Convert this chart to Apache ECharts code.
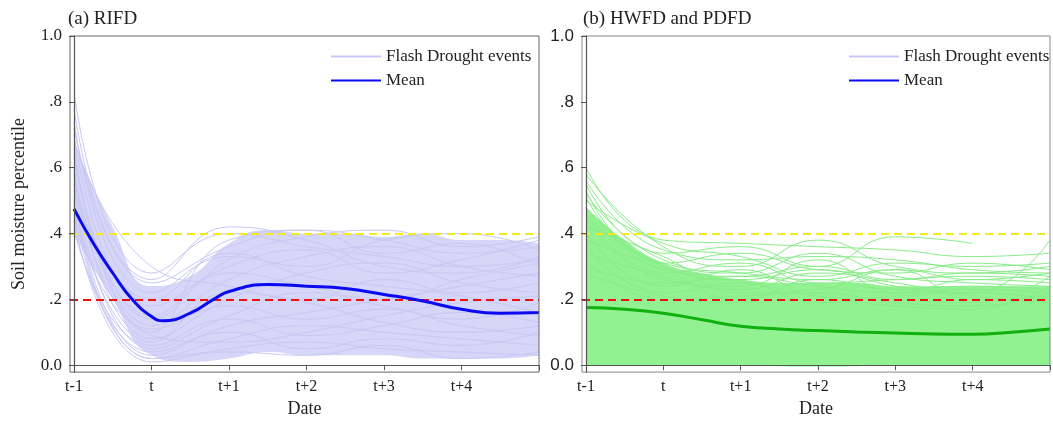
<!DOCTYPE html>
<html>
<head>
<meta charset="utf-8">
<script src="https://cdn.jsdelivr.net/npm/echarts@6/dist/echarts.min.js"></script>
<style>
html, body { margin: 0; padding: 0; background: #fff; }
#chart { width: 1053px; height: 423px; }
</style>
</head>
<body>
<div id="chart"></div>
<script>
// x positions: 0 = t-1, 1 = t, ... 6 = end of window
const xTicks = [0, 1, 2, 3, 4, 5, 6];
const xTickLabels = ['t-1', 't', 't+1', 't+2', 't+3', 't+4', ''];
const yTicks = [0, 0.2, 0.4, 0.6, 0.8, 1.0];
const yTickLabels = ['0.0', '.2', '.4', '.6', '.8', '1.0'];
const thresholds = [0.4, 0.2];

// (a) RIFD
const meanXA = [0, 0.25, 0.5, 0.75, 1, 1.15, 1.5, 1.8, 2, 2.5, 3, 3.5, 4, 4.5, 5, 5.5, 6];
const meanA = [0.475, 0.37, 0.28, 0.2, 0.148, 0.135, 0.158, 0.2, 0.224, 0.245, 0.24, 0.233, 0.215, 0.195, 0.17, 0.158, 0.16];
const bandXA = [0, 0.5, 1, 1.5, 2, 2.5, 3, 3.5, 4, 4.5, 5, 5.5, 6];
const bandLowA = [0.40, 0.20, 0.03, 0.01, 0.02, 0.04, 0.03, 0.03, 0.03, 0.02, 0.02, 0.02, 0.03];
const bandHighA = [0.68, 0.42, 0.24, 0.27, 0.37, 0.41, 0.40, 0.40, 0.39, 0.40, 0.38, 0.38, 0.37];
const eventsA = [
  [0.83, 0.28, 0.40, 0.36, 0.33, 0.30, 0.32],
  [0.78, 0.25, 0.36, 0.41, 0.38, 0.34, 0.36],
  [0.74, 0.22, 0.33, 0.30, 0.38, 0.40, 0.35],
  [0.70, 0.18, 0.30, 0.35, 0.28, 0.32, 0.38],
  [0.66, 0.12, 0.26, 0.33, 0.36, 0.30, 0.27],
  [0.63, 0.10, 0.38, 0.41, 0.34, 0.37, 0.30],
  [0.60, 0.08, 0.20, 0.28, 0.31, 0.25, 0.22],
  [0.58, 0.15, 0.28, 0.24, 0.20, 0.26, 0.31],
  [0.55, 0.05, 0.15, 0.22, 0.18, 0.14, 0.19],
  [0.53, 0.20, 0.34, 0.27, 0.24, 0.21, 0.16],
  [0.51, 0.03, 0.12, 0.16, 0.20, 0.24, 0.28],
  [0.49, 0.07, 0.22, 0.19, 0.13, 0.10, 0.12],
  [0.47, 0.02, 0.08, 0.12, 0.10, 0.08, 0.06],
  [0.45, 0.11, 0.18, 0.14, 0.17, 0.12, 0.09],
  [0.44, 0.01, 0.05, 0.07, 0.05, 0.04, 0.03],
  [0.42, 0.04, 0.10, 0.05, 0.08, 0.06, 0.10],
  [0.41, 0.06, 0.14, 0.09, 0.12, 0.16, 0.13],
  [0.68, 0.30, 0.24, 0.20, 0.26, 0.22, 0.25],
  [0.72, 0.26, 0.42, 0.38, 0.30, 0.28, 0.33],
  [0.64, 0.14, 0.32, 0.39, 0.41, 0.36, 0.39],
  [0.57, 0.09, 0.07, 0.10, 0.15, 0.19, 0.21],
  [0.50, 0.02, 0.04, 0.03, 0.06, 0.02, 0.04]
];

// (b) HWFD and PDFD
const meanXB = [0, 0.5, 1, 1.5, 2, 2.5, 3, 3.5, 4, 4.5, 5, 5.5, 6];
const meanB = [0.175, 0.170, 0.158, 0.138, 0.118, 0.110, 0.105, 0.101, 0.098, 0.095, 0.094, 0.100, 0.110];
const bandXB = [0, 0.5, 1, 1.5, 2, 2.5, 3, 3.5, 4, 4.5, 5, 5.5, 6];
const bandLowB = [0.0, 0.0, 0.0, 0.0, 0.0, -0.003, -0.004, -0.003, 0.0, 0.0, 0.0, 0.0, 0.0];
const bandHighB = [0.48, 0.38, 0.31, 0.28, 0.26, 0.25, 0.25, 0.25, 0.24, 0.24, 0.24, 0.24, 0.24];
const eventsB = [
  [0.60, 0.38, 0.37, 0.36, 0.35, 0.33, 0.34],
  [0.58, 0.36, 0.30, 0.38, 0.30, 0.28, 0.30],
  [0.55, 0.34, 0.36, 0.30, 0.39, 0.37, null],
  [0.52, 0.32, 0.28, 0.34, 0.27, 0.25, 0.24],
  [0.50, 0.37, 0.33, 0.27, 0.31, 0.30, 0.31],
  [0.48, 0.30, 0.26, 0.29, 0.24, 0.22, 0.38],
  [0.46, 0.28, 0.31, 0.25, 0.26, 0.27, 0.26],
  [0.44, 0.26, 0.24, 0.32, 0.22, 0.23, 0.22],
  [0.42, 0.33, 0.22, 0.23, 0.29, 0.20, 0.21],
  [0.40, 0.24, 0.29, 0.21, 0.20, 0.19, 0.27],
  [0.38, 0.29, 0.20, 0.26, 0.23, 0.24, 0.23],
  [0.36, 0.22, 0.25, 0.19, 0.21, 0.22, 0.20],
  [0.34, 0.27, 0.23, 0.28, 0.25, 0.21, 0.19],
  [0.32, 0.20, 0.21, 0.22, 0.19, 0.18, 0.22],
  [0.30, 0.25, 0.27, 0.24, 0.22, 0.26, 0.25],
  [0.56, 0.35, 0.32, 0.33, 0.32, 0.29, 0.28],
  [0.28, 0.21, 0.19, 0.20, 0.18, 0.17, 0.24],
  [0.53, 0.31, 0.34, 0.29, 0.28, 0.31, 0.29],
  [0.51, 0.29, 0.27, 0.30, 0.26, 0.28, 0.27],
  [0.45, 0.31, 0.28, 0.26, 0.29, 0.26, 0.28]
];

const SERIF = '"Liberation Serif", "Times New Roman", serif';
const SANS = '"Liberation Sans", Arial, sans-serif';
const pair = (xs, ys) => xs.map((x, i) => [x, ys[i]]);

function axes(idx, ySans, yName) {
  const x = {
    type: 'value', gridIndex: idx, min: -0.0516, max: 6, z: 6,
    axisLine: { show: true, lineStyle: { color: '#555', width: 1.2 } },
    axisTick: { show: true, length: 5, customValues: xTicks, lineStyle: { color: '#555' } },
    axisLabel: { customValues: xTicks, margin: 7, fontFamily: SERIF, fontSize: 16, color: '#222',
      formatter: v => xTickLabels[xTicks.indexOf(Math.round(v))] || '' },
    splitLine: { show: false },
    name: 'Date', nameLocation: 'middle', nameGap: 27,
    nameTextStyle: { fontFamily: SERIF, fontSize: 18, color: '#222' }
  };
  const y = {
    type: 'value', gridIndex: idx, min: -0.021, max: 1, z: 6,
    axisLine: { show: true, lineStyle: { color: '#555', width: 1.2 } },
    axisTick: { show: true, length: 5, customValues: yTicks, lineStyle: { color: '#555' } },
    axisLabel: { customValues: yTicks, margin: 8, fontFamily: ySans ? SANS : SERIF, fontSize: 17, color: '#222',
      formatter: v => yTickLabels[yTicks.findIndex(t => Math.abs(t - v) < 1e-6)] || '' },
    splitLine: { show: false },
    name: yName, nameLocation: 'middle', nameGap: 42,
    nameTextStyle: { fontFamily: SERIF, fontSize: 18, color: '#222' }
  };
  return { x, y };
}

function panelSeries(idx, bandX, low, high, events, meanX, mean, lineCol, bandCol, meanCol) {
  const s = [];
  // dense core of the event lines: fill under the upper edge, then blank out under the lower edge
  s.push({
    type: 'line', name: 'bandHigh' + idx, xAxisIndex: idx, yAxisIndex: idx,
    data: pair(bandX, high), smooth: true, symbol: 'none', lineStyle: { width: 0 },
    areaStyle: { color: bandCol, opacity: 1, origin: 'start' }, z: 1, silent: true
  });
  s.push({
    type: 'line', name: 'bandLow' + idx, xAxisIndex: idx, yAxisIndex: idx,
    data: pair(bandX, low), smooth: true, symbol: 'none', lineStyle: { width: 0 },
    areaStyle: { color: '#fff', opacity: 1, origin: 'start' }, z: 2, silent: true
  });
  events.forEach(ev => {
    s.push({
      type: 'line', name: 'Flash Drought events', xAxisIndex: idx, yAxisIndex: idx,
      data: pair(xTicks, ev), smooth: 0.5, symbol: 'none',
      lineStyle: { color: lineCol, width: 1 }, itemStyle: { color: lineCol }, z: 3, silent: true
    });
  });
  s.push({
    type: 'line', name: 'thr' + idx, xAxisIndex: idx, yAxisIndex: idx, data: [], z: 4,
    markLine: {
      silent: true, symbol: 'none', label: { show: false },
      data: [
        { yAxis: thresholds[0], lineStyle: { color: '#f4ea1c', type: [8, 5], width: 2 } },
        { yAxis: thresholds[1], lineStyle: { color: '#ee1010', type: [8, 5], width: 2 } }
      ]
    }
  });
  s.push({
    type: 'line', name: 'Mean', xAxisIndex: idx, yAxisIndex: idx,
    data: pair(meanX, mean), smooth: true, symbol: 'none',
    lineStyle: { color: meanCol, width: 3 }, itemStyle: { color: meanCol }, z: 5, silent: true
  });
  return s;
}

const chart = echarts.init(document.getElementById('chart'), null, { renderer: 'canvas' });
const a = axes(0, false, 'Soil moisture percentile');
const b = axes(1, true, '');

const legendCommon = {
  orient: 'vertical', itemWidth: 50, itemHeight: 14, itemGap: 7,
  selectedMode: false,
  itemStyle: { opacity: 0 },
  textStyle: { fontFamily: SERIF, fontSize: 17, color: '#222' }
};

chart.setOption({
  animation: false,
  backgroundColor: '#fff',
  title: [
    { text: '(a) RIFD', left: 63, top: 5, textStyle: { fontFamily: SERIF, fontSize: 19, fontWeight: 'normal', color: '#222' } },
    { text: '(b) HWFD and PDFD', left: 578, top: 5, textStyle: { fontFamily: SERIF, fontSize: 19, fontWeight: 'normal', color: '#222' } }
  ],
  legend: [
    Object.assign({}, legendCommon, { left: 325, top: 43,
      data: [{ name: 'Flash Drought events' }, { name: 'Mean' }] }),
    Object.assign({}, legendCommon, { left: 843, top: 43,
      data: [{ name: 'Flash Drought events' }, { name: 'Mean' }] })
  ],
  grid: [
    { left: 70, right: 514, top: 36, bottom: 50, show: true, borderColor: '#666', borderWidth: 1, z: 6 },
    { left: 582, right: 1, top: 36, bottom: 50, show: true, borderColor: '#888', borderWidth: 1, z: 6 }
  ],
  xAxis: [a.x, b.x],
  yAxis: [a.y, b.y],
  series: [].concat(
    panelSeries(0, bandXA, bandLowA, bandHighA, eventsA, meanXA, meanA, 'rgb(200,200,244)', 'rgb(214,214,248)', '#0a0af0'),
    panelSeries(1, bandXB, bandLowB, bandHighB, eventsB, meanXB, meanB, 'rgb(136,236,136)', 'rgb(146,242,146)', '#10b010')
  )
});
</script>
</body>
</html>
